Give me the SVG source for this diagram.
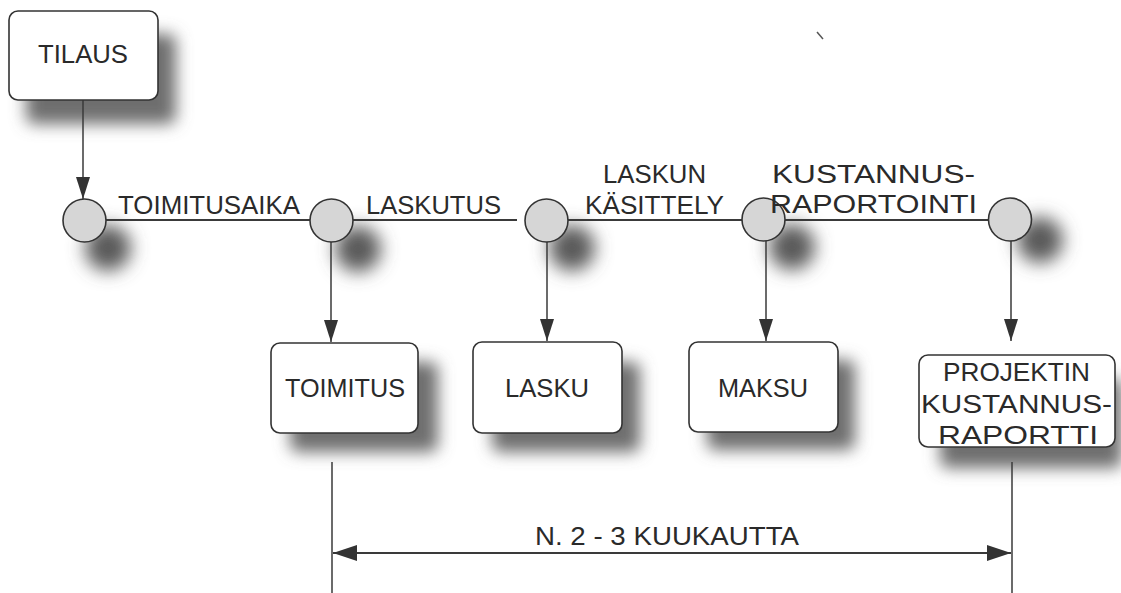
<svg xmlns="http://www.w3.org/2000/svg" width="1121" height="593" viewBox="0 0 1121 593">
<style>
.box{fill:#ffffff;stroke:#333333;stroke-width:1.6}
.node{fill:#d6d6d6;stroke:#333333;stroke-width:1.6}
.ln{stroke:#3a3a3a;stroke-width:2.2;fill:none}
.lt{stroke:#3a3a3a;stroke-width:1.5;fill:none}
.sh{fill:#6e6e6e;filter:url(#blur)}
.csh{fill:#5a5a5a;filter:url(#blurc)}
.lsh{stroke:#9a9a9a;stroke-width:10;fill:none;opacity:0.3;filter:url(#blurl)}
text{font-family:"Liberation Sans",Arial,sans-serif;font-size:26px;fill:#2a2a2a}
</style>
<defs>
<filter id="blur" x="-30%" y="-30%" width="160%" height="160%"><feGaussianBlur stdDeviation="8"/></filter>
<filter id="blurc" x="-80%" y="-80%" width="260%" height="260%"><feGaussianBlur stdDeviation="9"/></filter>
<filter id="blurl" x="-20%" y="-300%" width="140%" height="700%"><feGaussianBlur stdDeviation="5"/></filter>
<marker id="arr2" viewBox="0 0 24 16" refX="24" refY="8" markerWidth="24" markerHeight="16" markerUnits="userSpaceOnUse" orient="auto-start-reverse">
<path d="M0,0 L24,8 L0,16 z" fill="#333333"/>
</marker>
<marker id="arrv" viewBox="0 0 22 14" refX="22" refY="7" markerWidth="22" markerHeight="14" markerUnits="userSpaceOnUse" orient="auto">
<path d="M0,0 L22,7 L0,14 z" fill="#333333"/>
</marker>
</defs>

<g id="shadows">
<rect class="sh" x="26" y="34" width="150" height="90" rx="8"/>
<rect class="sh" x="290" y="362" width="148" height="90" rx="8"/>
<rect class="sh" x="492" y="362" width="148" height="90" rx="8"/>
<rect class="sh" x="707" y="360" width="148" height="90" rx="8"/>
<rect class="sh" x="940" y="378" width="182" height="90" rx="8"/>
<circle class="csh" cx="108" cy="248" r="23"/>
<circle class="csh" cx="358" cy="249" r="23"/>
<circle class="csh" cx="572" cy="248" r="23"/>
<circle class="csh" cx="792" cy="247" r="23"/>
<circle class="csh" cx="1040" cy="240" r="23"/>
<line class="lsh" x1="110" y1="250" x2="1000" y2="250"/>
<line class="lsh" x1="350" y1="578" x2="1020" y2="578"/>
</g>

<g id="connectors">
<line class="lt" x1="83" y1="100" x2="83" y2="199" marker-end="url(#arrv)"/>
<line class="ln" x1="106" y1="220" x2="310" y2="220"/>
<line class="ln" x1="353" y1="220" x2="517" y2="220"/>
<line class="ln" x1="568" y1="220" x2="742" y2="220"/>
<line class="ln" x1="785" y1="220" x2="988" y2="220"/>
<line class="lt" x1="331" y1="242" x2="331" y2="342" marker-end="url(#arrv)"/>
<line class="lt" x1="547" y1="242" x2="547" y2="341" marker-end="url(#arrv)"/>
<line class="lt" x1="766" y1="241" x2="766" y2="341" marker-end="url(#arrv)"/>
<line class="lt" x1="1011" y1="241" x2="1011" y2="341" marker-end="url(#arrv)"/>
<line class="lt" x1="332" y1="462" x2="332" y2="593"/>
<line class="lt" x1="1012" y1="462" x2="1012" y2="593"/>
<line class="ln" x1="333" y1="553" x2="1011" y2="553" marker-start="url(#arr2)" marker-end="url(#arr2)"/>
<line stroke="#555555" stroke-width="1.5" x1="817" y1="32" x2="823" y2="39"/>
</g>

<g id="tilaus">
<rect class="box" x="9" y="11" width="149" height="89" rx="9"/>
<text x="38" y="63" textLength="90" lengthAdjust="spacingAndGlyphs">TILAUS</text>
</g>

<g id="n1"><circle class="node" cx="84.5" cy="220.5" r="21.5"/></g>
<g id="n2"><circle class="node" cx="331.5" cy="220.5" r="21.5"/></g>
<g id="n3"><circle class="node" cx="546.5" cy="220.5" r="21.5"/></g>
<g id="n4"><circle class="node" cx="763.5" cy="219.5" r="21.5"/></g>
<g id="n5"><circle class="node" cx="1010" cy="219.5" r="21.5"/></g>

<g id="labels">
<text x="118" y="214" textLength="182" lengthAdjust="spacingAndGlyphs">TOIMITUSAIKA</text>
<text x="366" y="214" textLength="135" lengthAdjust="spacingAndGlyphs">LASKUTUS</text>
<text x="603" y="183" textLength="103" lengthAdjust="spacingAndGlyphs">LASKUN</text>
<text x="585" y="214" textLength="139" lengthAdjust="spacingAndGlyphs">KÄSITTELY</text>
<text x="772" y="183" textLength="203" lengthAdjust="spacingAndGlyphs">KUSTANNUS-</text>
<text x="770" y="213" textLength="207" lengthAdjust="spacingAndGlyphs">RAPORTOINTI</text>
<text x="535" y="545" textLength="264" lengthAdjust="spacingAndGlyphs">N. 2 - 3 KUUKAUTTA</text>
</g>

<g id="toimitus">
<rect class="box" x="271" y="343" width="147" height="90" rx="9"/>
<text x="285" y="397" textLength="120" lengthAdjust="spacingAndGlyphs">TOIMITUS</text>
</g>
<g id="lasku">
<rect class="box" x="473" y="342" width="149" height="91" rx="9"/>
<text x="505" y="397" textLength="84" lengthAdjust="spacingAndGlyphs">LASKU</text>
</g>
<g id="maksu">
<rect class="box" x="689" y="342" width="149" height="90" rx="9"/>
<text x="718" y="397" textLength="90" lengthAdjust="spacingAndGlyphs">MAKSU</text>
</g>
<g id="raportti">
<rect class="box" x="919" y="355" width="196" height="92" rx="9"/>
<text x="943" y="381" textLength="147" lengthAdjust="spacingAndGlyphs">PROJEKTIN</text>
<text x="921" y="413" textLength="191" lengthAdjust="spacingAndGlyphs">KUSTANNUS-</text>
<text x="938" y="444" textLength="160" lengthAdjust="spacingAndGlyphs">RAPORTTI</text>
</g>
</svg>
